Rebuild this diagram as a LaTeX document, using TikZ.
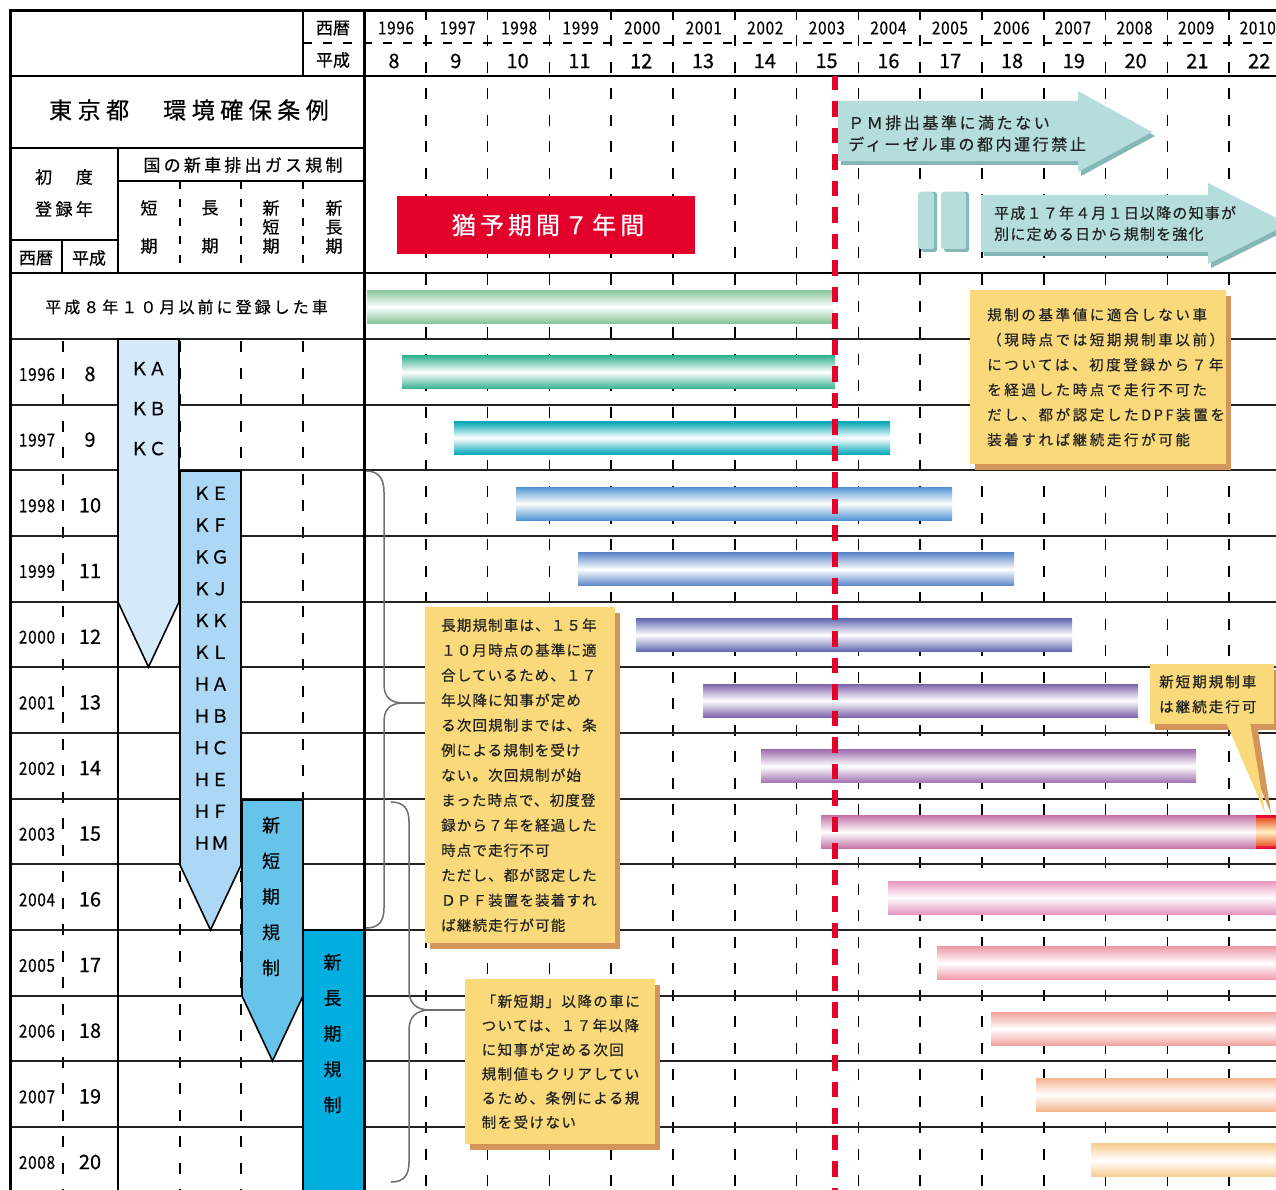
\documentclass[tikz,border=0pt]{standalone}
\usepackage{fontspec}
\setmainfont{Noto Sans CJK JP}[FakeBold=0.5]
\newfontfamily\narrowf{Noto Sans CJK JP}[FakeStretch=0.85, FakeBold=0.4]
\usetikzlibrary{shadows}
\newcommand{\lsp}[1]{\addfontfeature{LetterSpace=#1}}
\newcommand{\fsz}[2]{\fontsize{#1}{#2}\selectfont}
\definecolor{calfill}{HTML}{F9D97A}
\definecolor{calshadow}{HTML}{D4955A}
\definecolor{arrface}{HTML}{B4DDDB}
\definecolor{arrshade}{HTML}{84B8B6}
\definecolor{redbox}{HTML}{E3002B}
\definecolor{kaC}{HTML}{D5EAF8}
\definecolor{keC}{HTML}{ADD8F5}
\definecolor{nsC}{HTML}{66C3EA}
\definecolor{nlC}{HTML}{00AEE0}
\definecolor{braceC}{HTML}{6E6E6E}
\definecolor{bcA}{HTML}{86C69A}
\definecolor{bcB}{HTML}{35B28F}
\definecolor{bcC}{HTML}{00A6B6}
\definecolor{bcD}{HTML}{5095D3}
\definecolor{bcE}{HTML}{5B87C9}
\definecolor{bcF}{HTML}{6068B0}
\definecolor{bcG}{HTML}{7E64A9}
\definecolor{bcH}{HTML}{A071B1}
\definecolor{bcI}{HTML}{C474A8}
\definecolor{bcJ}{HTML}{E797C0}
\definecolor{bcK}{HTML}{EF9AAA}
\definecolor{bcL}{HTML}{F4A39D}
\definecolor{bcM}{HTML}{F6B690}
\definecolor{bcN}{HTML}{F8CC92}
\definecolor{endR}{HTML}{EC5A2C}
\definecolor{endY}{HTML}{FFF3C4}
\definecolor{inkC}{HTML}{222222}
\tikzset{
 gridline/.style={line width=1.6pt, dash pattern=on 11pt off 15.5pt, dash phase=2pt},
 tabdash/.style={line width=1.6pt, dash pattern=on 11pt off 15.5pt, dash phase=24.5pt},
 celldash/.style={line width=1.5pt, dash pattern=on 8pt off 10.5pt},
 hdash/.style={line width=1.4pt, dash pattern=on 9pt off 11pt},
 rowline/.style={line width=1.9pt, draw=inkC},
 frameline/.style={line width=3pt},
 midline/.style={line width=2.4pt},
 rule/.style={line width=1.8pt},
 redline/.style={draw=redbox, line width=5.5pt, dash pattern=on 15.5pt off 11pt, dash phase=1.3pt},
 brace/.style={draw=braceC, line width=1.5pt},
 txt/.style={inner sep=0pt, text=black},
 yrlab/.style={txt, font=\narrowf\fsz{18}{20}\lsp{4}},
 hslab/.style={txt, font=\fsz{20}{22}},
 jpl/.style={txt, font=\fsz{17}{19}},
 notebox/.style={fill=calfill, inner ysep=0pt, align=left, anchor=north west, text=inkC,
   drop shadow={shadow xshift=5pt, shadow yshift=-6pt, fill=calshadow, opacity=1}},
 arrowface/.style={fill=arrface},
 arrowshade/.style={fill=arrshade},
 barshade/.style={top color=#1, bottom color=#1, middle color=white},
 regarrow/.style={draw=black, line width=1.6pt},
}
\begin{document}
\begin{tikzpicture}[x=1pt,y=-1pt]
\useasboundingbox (0,0) rectangle (1276,1190);
\clip (0,0) rectangle (1276,1190);
\fill[white] (0,0) rectangle (1276,1190);

% year grid lines
\foreach \k in {1,...,14} \draw[gridline] ({364+61.8*\k},11) -- ({364+61.8*\k},1190);
% table dashed lines
\foreach \xx in {63,180,241,303} \draw[tabdash] (\xx,339) -- (\xx,1190);
\foreach \xx in {180,241,303} \draw[celldash] (\xx,181) -- (\xx,273);
\draw[hdash] (303,43) -- (1276,43);

% row lines
\foreach \i in {0,...,12} \draw[rowline] (10,{339+65.67*\i}) -- (1276,{339+65.67*\i});
\draw[midline] (10,76) -- (1276,76);
\draw[midline] (10,273) -- (1276,273);
\draw[rule] (303,11) -- (303,76);
\draw[rule] (10,148) -- (364,148);
\draw[rule] (118,148) -- (118,273);
\draw[rule] (118,339) -- (118,1190);
\draw[rule] (118,181) -- (364,181);
\draw[rule] (10,240) -- (118,240);
\draw[rule] (62,240) -- (62,273);
\draw[frameline] (10,1192) -- (10,11) -- (1276,11);
\draw[frameline] (364,11) -- (364,1192);

% bars
\foreach \xa/\xb/\r/\c in {367/833/0/bcA, 402/835/1/bcB, 454/890/2/bcC, 516/952/3/bcD,
  578/1014/4/bcE, 636/1072/5/bcF, 703/1138/6/bcG, 761/1196/7/bcH, 821/1256/8/bcI,
  888/1280/9/bcJ, 937/1280/10/bcK, 991/1280/11/bcL, 1036/1280/12/bcM, 1091/1280/13/bcN}
  \shade[barshade=\c] (\xa,{273+65.67*\r+17}) rectangle (\xb,{273+65.67*\r+50});
\shade[top color=redbox, bottom color=redbox, middle color=endY] (1256,815.5) rectangle (1280,848.5);
\shade[top color=endR, bottom color=endR, middle color=endY] (1256,818.5) rectangle (1280,845.5);

% regulation arrows in the table
\filldraw[regarrow, fill=kaC] (118,339) -- (179,339) -- (179,602) -- (148.5,667) -- (118,602) -- cycle;
\filldraw[regarrow, fill=keC] (180,471) -- (241,471) -- (241,865) -- (210.5,930) -- (180,865) -- cycle;
\filldraw[regarrow, fill=nsC] (242,800) -- (303,800) -- (303,996) -- (272.5,1061) -- (242,996) -- cycle;
\filldraw[regarrow, fill=nlC] (303,930) -- (364,930) -- (364,1195) -- (303,1195) -- cycle;
\draw[frameline] (364,900) -- (364,1192);

% header texts
\node[jpl] (hseireki) at (333,28) {西暦};
\node[jpl] (hheisei) at (333,60) {平成};
\foreach \i in {0,...,14} {
  \pgfmathtruncatemacro\yr{1996+\i}
  \pgfmathtruncatemacro\hs{8+\i}
  \node[yrlab] (hy\i) at ({396+61.55*\i},28) {\yr};
  \node[hslab] (hh\i) at ({394+61.8*\i},61) {\hs};
}
% left table texts
\node[txt, font=\fsz{23}{26}\lsp{24}] (title) at (189,110) {東京都　環境確保条例};
\node[txt, font=\fsz{17}{19}\lsp{19}] (kuni) at (243,165) {国の新車排出ガス規制};
\node[txt, font=\fsz{17}{19}\lsp{20}] (shodo) at (64,177) {初　度};
\node[txt, font=\fsz{17}{19}\lsp{20}] (toroku) at (64,209) {登録年};
\node[jpl] (lseireki) at (36,258) {西暦};
\node[jpl] (lheisei) at (89,258) {平成};
\node[txt, align=center, font=\fsz{17}{38}] (ctan) at (149,227) {短\\期};
\node[txt, align=center, font=\fsz{17}{38}] (ccho) at (210,227) {長\\期};
\node[txt, align=center, font=\fsz{17}{19}] (cshintan) at (271,227) {新\\短\\期};
\node[txt, align=center, font=\fsz{17}{19}] (cshincho) at (334,227) {新\\長\\期};
\node[txt, font=\fsz{16}{18}\lsp{19}] (old) at (186.5,307) {平成８年１０月以前に登録した車};
\foreach \i in {0,...,12} {
  \pgfmathtruncatemacro\yr{1996+\i}
  \pgfmathtruncatemacro\hs{8+\i}
  \node[yrlab] (ly\i) at (37,{339+65.67*\i+35.5}) {\yr};
  \node[hslab] (lh\i) at (90,{339+65.67*\i+35}) {\hs};
}
\node[txt, align=center, font=\fsz{18}{40}] (kalab) at (148.5,408.7) {ＫＡ\\ＫＢ\\ＫＣ};
\node[txt, align=center, font=\fsz{18}{31.8}] (kelab) at (211,668.2) {ＫＥ\\ＫＦ\\ＫＧ\\ＫＪ\\ＫＫ\\ＫＬ\\ＨＡ\\ＨＢ\\ＨＣ\\ＨＥ\\ＨＦ\\ＨＭ};
\node[txt, align=center, font=\fsz{18}{35.7}] (nslab) at (271,896.5) {新\\短\\期\\規\\制};
\node[txt, align=center, font=\fsz{18}{35.7}] (nllab) at (332.5,1033.5) {新\\長\\期\\規\\制};

% grace period box
\node[fill=redbox, minimum width=298pt, minimum height=58pt, inner sep=0pt, text=white,
  font=\fsz{24}{28}\lsp{17}] (grace) at (546,225) {\hspace{4pt}猶予期間７年間};

% top arrows
\begin{scope}[shift={(3,4)}]
\fill[arrowshade] (838,101) -- (1078,101) -- (1078,91) -- (1152,132) -- (1078,172) -- (1078,161) -- (838,161) -- cycle;
\fill[arrowshade] (981,195) -- (1208,195) -- (1208,183) -- (1288,224) -- (1208,264) -- (1208,252) -- (981,252) -- cycle;
\end{scope}
\fill[arrowface] (838,101) -- (1078,101) -- (1078,91) -- (1152,132) -- (1078,172) -- (1078,161) -- (838,161) -- cycle;
\fill[arrowface] (981,195) -- (1208,195) -- (1208,183) -- (1288,224) -- (1208,264) -- (1208,252) -- (981,252) -- cycle;
\fill[arrowshade, rounded corners=2.5pt] (921,192) rectangle (937,252);
\fill[arrowshade, rounded corners=2.5pt] (944,192) rectangle (969,252);
\fill[arrowface, rounded corners=2.5pt] (918,192) rectangle (934,249);
\fill[arrowface, rounded corners=2.5pt] (941,192) rectangle (966,249);
\node[txt, align=left, anchor=west, text=inkC, font=\fsz{16}{21.5}\lsp{16}] (pmtext) at (848,133.5)
  {ＰＭ排出基準に満たない\\ディーゼル車の都内運行禁止};
\node[txt, align=left, anchor=west, text=inkC, font=\fsz{15}{21}\lsp{8}] (rtext) at (994,223.5)
  {平成１７年４月１日以降の知事が\\別に定める日から規制を強化};

% 2003 red line
\draw[redline] (835,76) -- (835,1192);

% callouts
\node[notebox, inner xsep=16pt, text width=158pt, minimum height=336pt, font=\fsz{14.5}{25}\lsp{8}] (calA) at (425,607)
 {長期規制車は、１５年\\１０月時点の基準に適\\合しているため、１７\\年以降に知事が定め\\る次回規制までは、条\\例による規制を受け\\ない。次回規制が始\\まった時点で、初度登\\録から７年を経過した\\時点で走行不可\\ただし、都が認定した\\ＤＰＦ装置を装着すれ\\ば継続走行が可能};
\node[notebox, inner xsep=17pt, text width=222pt, minimum height=174pt, font=\fsz{14.5}{25}\lsp{18}] (calB) at (970,290)
 {規制の基準値に適合しない車\\（現時点では短期規制車以前）\\については、初度登録から７年\\を経過した時点で走行不可た\\だし、都が認定したDPF装置を\\装着すれば継続走行が可能};
\node[notebox, inner xsep=16.5pt, text width=157pt, minimum height=165pt, font=\fsz{14.5}{24.2}\lsp{10}] (calC) at (465,979)
 {「新短期」以降の車に\\ついては、１７年以降\\に知事が定める次回\\規制値もクリアしてい\\るため、条例による規\\制を受けない};
\fill[calshadow] (1233,724) -- (1271,813) -- (1257,724) -- cycle;
\node[notebox, inner xsep=9pt, text width=106pt, minimum height=60pt, font=\fsz{14.5}{25}\lsp{14}] (calD) at (1150,664)
 {新短期規制車\\は継続走行可};
\fill[calfill] (1226,722) -- (1265,813) -- (1250,722) -- cycle;

% braces
\draw[brace] (366,471) .. controls (379,471) and (384,479) .. (384,492) -- (384,684)
  .. controls (384,697) and (390,703) .. (404,703)
  .. controls (390,703) and (384,709) .. (384,722) -- (384,908)
  .. controls (384,921) and (379,928) .. (366,928);
\draw[brace] (404,703) -- (calA.west |- 404,703);
\draw[brace] (391,802) .. controls (404,802) and (409,809) .. (409,822) -- (409,990)
  .. controls (409,1003) and (416,1010) .. (430,1010)
  .. controls (416,1010) and (409,1017) .. (409,1030) -- (409,1162)
  .. controls (409,1175) and (404,1182) .. (391,1182);
\draw[brace] (430,1010) -- (calC.west |- 430,1010);
\end{tikzpicture}
\end{document}
